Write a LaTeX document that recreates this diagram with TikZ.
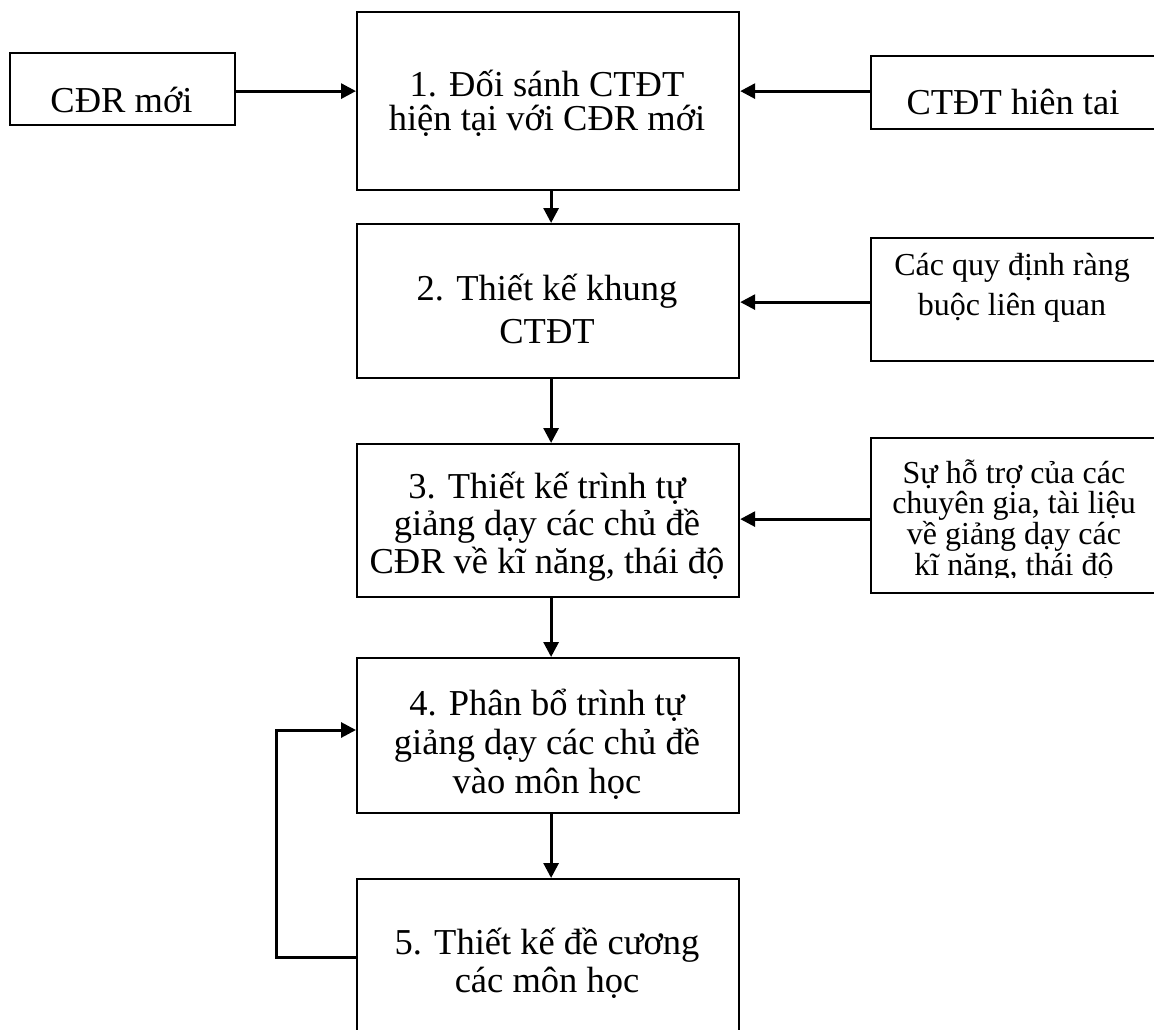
\documentclass[tikz,border=0pt]{standalone}
\usepackage{fontspec}
\setmainfont{Liberation Serif}
\usetikzlibrary{arrows.meta,calc}

% Centered lines with a fixed distance between baselines; the baseline of
% the whole stack is that of its first line.
\newcommand\stacklines[2]{\vtop{\baselineskip=#1\lineskiplimit=-\maxdimen
  \lineskip=0pt\halign{\hfil##\hfil\cr#2\crcr}}}

\tikzset{
  box/.style={draw, line width=2.2pt, rectangle, inner sep=0pt, anchor=north west},
  bigtext/.style={inner sep=0pt, anchor=base, font=\fontsize{36.5pt}{40pt}\selectfont},
  smalltext/.style={inner sep=0pt, anchor=base, font=\fontsize{32pt}{36pt}\selectfont},
  arr/.style={line width=3pt, -{Triangle[length=15pt,width=15pt]}},
}

\begin{document}
\begin{tikzpicture}[x=1pt,y=-1pt]
\useasboundingbox (0,0) rectangle (1154,1030);
\clip (0,0) rectangle (1154,1030);

% main steps
\node[box, minimum width=382pt, minimum height=178pt] (b1) at (356,11) {};
\node[box, minimum width=382pt, minimum height=154pt] (b2) at (356,223) {};
\node[box, minimum width=382pt, minimum height=153pt] (b3) at (356,443) {};
\node[box, minimum width=382pt, minimum height=155pt] (b4) at (356,657) {};
\node[box, minimum width=382pt, minimum height=170pt] (b5) at (356,878) {};

\node[bigtext] (t1) at (547,97)  {\stacklines{34pt}{1. Đối sánh CTĐT\cr hiện tại với CĐR mới}};
\node[bigtext] (t2) at (547,300) {\stacklines{43pt}{2. Thiết kế khung\cr CTĐT}};
\node[bigtext] (t3) at (547,498) {\stacklines{37.5pt}{3. Thiết kế trình tự\cr giảng dạy các chủ đề\cr CĐR về kĩ năng, thái độ}};
\node[bigtext] (t4) at (547,715) {\stacklines{39pt}{4. Phân bổ trình tự\cr giảng dạy các chủ đề\cr vào môn học}};
\node[bigtext] (t5) at (547,954) {\stacklines{38pt}{5. Thiết kế đề cương\cr các môn học}};

% inputs
\node[box, minimum width=225pt, minimum height=72pt] (cdr) at (9,52) {};
\node[bigtext] (tcdr) at (121.5,113) {CĐR mới};

\node[box, minimum width=290pt, minimum height=73pt] (ct) at (870,55) {};
\node[bigtext] (tct) at (1013,115) {CTĐT hiên tai};

\node[box, minimum width=290pt, minimum height=123pt] (qd) at (870,237) {};
\node[smalltext] (tqd) at (1012,275) {\stacklines{40pt}{Các quy định ràng\cr buộc liên quan}};

\node[box, minimum width=290pt, minimum height=155pt] (ht) at (870,437) {};
\begin{scope}
  \clip (870,437) rectangle (1160,577);
  \node[smalltext] (tht) at (1014,483) {\stacklines{30.7pt}{Sự hỗ trợ của các\cr chuyên gia, tài liệu\cr về giảng dạy các\cr kĩ năng, thái độ}};
\end{scope}

% flow between steps
\draw[arr] ($(b1.south)+(3,0)$) -- ($(b2.north)+(3,0)$);
\draw[arr] ($(b2.south)+(3,0)$) -- ($(b3.north)+(3,0)$);
\draw[arr] ($(b3.south)+(3,0)$) -- ($(b4.north)+(3,0)$);
\draw[arr] ($(b4.south)+(3,0)$) -- ($(b5.north)+(3,0)$);

% inputs into the steps
\draw[arr] ($(cdr.east)+(0,2)$) -- ($(cdr.east -| b1.west)+(0,2)$);
\draw[arr] ($(ct.west)+(0,-1.5)$) -- ($(ct.west -| b1.east)+(0,-1.5)$);
\draw[arr] ($(qd.west)+(0,2.5)$) -- ($(qd.west -| b2.east)+(0,2.5)$);
\draw[arr] ($(ht.west)+(0,3.5)$) -- ($(ht.west -| b3.east)+(0,3.5)$);

% feedback from step 5 to step 4
\draw[arr] ($(b5.north west)+(0,79)$) -- ++(-80,0) |- ($(b4.north west)+(0,73)$);
\end{tikzpicture}
\end{document}
